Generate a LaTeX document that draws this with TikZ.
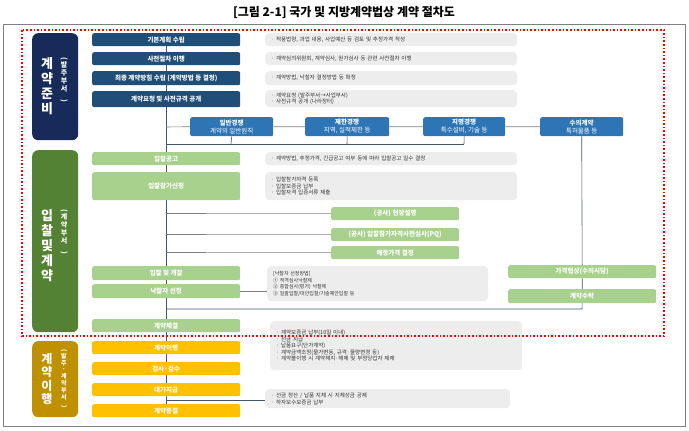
\documentclass[tikz,border=0pt]{standalone}
\usepackage{fontspec}
\setmainfont{Noto Sans CJK KR}
\usetikzlibrary{positioning}
\definecolor{navy}{HTML}{1F4E79}
\definecolor{dnavy}{HTML}{172B5A}
\definecolor{bl}{HTML}{2E75B6}
\definecolor{dg}{HTML}{548235}
\definecolor{lg}{HTML}{A9D18E}
\definecolor{yl}{HTML}{FFC000}
\definecolor{br}{HTML}{BF9000}
\definecolor{gy}{HTML}{EDEDED}
\definecolor{ln}{HTML}{44546A}
\tikzset{
 box/.style={anchor=north west,rounded corners=2pt,inner sep=0pt,font=\fontsize{6.5}{7}\selectfont\bfseries,text=white},
 nb/.style={box,fill=navy},
 gb/.style={box,fill=lg},
 yb/.style={box,fill=yl},
 tb/.style={box,fill=bl,align=center,font=\fontsize{6.5}{8}\selectfont\bfseries},
 db/.style={box,fill=gy,text=black!80,align=left,font=\fontsize{5.5}{6.6}\selectfont,rounded corners=4pt,text width=#1,inner xsep=6pt},
 db/.default=240pt,
 sb/.style={box,rounded corners=6pt},
 big/.style={text=white,font=\fontsize{13}{15}\selectfont\bfseries,align=center,inner sep=0pt},
 small/.style={text=white,font=\fontsize{7}{8}\selectfont\bfseries,align=center,inner sep=0pt},
 cn/.style={draw=ln,line width=0.6pt}
}
\newcommand{\vt}[1]{\rotatebox{-90}{#1}}
\begin{document}
\begin{tikzpicture}[x=1pt,y=-1pt]
\useasboundingbox (0,0) rectangle (689,431);
\node[font=\fontsize{12}{14}\selectfont\bfseries] (title) at (344,12) {[그림 2-1] 국가 및 지방계약법상 계약 절차도};
\draw[gray,line width=1pt] (3,24) rectangle (685,426);
% spine
\coordinate (s0) at (166,46);
\coordinate (s1) at (166,404);
\draw[cn] (s0) -- (s1);
% side labels
\node[sb,fill=dnavy,minimum width=46pt,minimum height=107pt] (L1) at (32,33) {};
\node[big] (L1a) at (47,86) {계\\약\\준\\비};
\node[small] (L1b) at (64,80) {\vt{(}\\발\\주\\부\\서\\\vt{)}};
\node[sb,fill=dg,minimum width=46pt,minimum height=182pt] (L2) at (32,150) {};
\node[big] (L2a) at (47,246) {입\\찰\\및\\계\\약};
\node[small] (L2b) at (64,232) {\vt{(}\\계\\약\\부\\서\\\vt{)}};
\node[sb,fill=br,minimum width=46pt,minimum height=76pt] (L3) at (32,341) {};
\node[big,font=\fontsize{12}{13.5}\selectfont\bfseries] (L3a) at (47,379) {계\\약\\이\\행};
\node[small,font=\fontsize{6}{6.8}\selectfont\bfseries] (L3b) at (64,379) {\vt{(}\\발\\주\\·\\계\\약\\부\\서\\\vt{)}};
% navy steps
\node[nb,minimum width=148pt,minimum height=13pt] (n1) at (92,33) {기본계획 수립};
\node[nb,minimum width=148pt,minimum height=13pt] (n2) at (92,52) {사전절차 이행};
\node[nb,minimum width=148pt,minimum height=14pt] (n3) at (92,71) {최종 계약방침 수립 (계약방법 등 결정)};
\node[nb,minimum width=148pt,minimum height=16pt] (n4) at (92,91) {계약요청 및 사전규격 공개};
\node[db,minimum height=13pt] (d1) at (265,33) {·\ 적용법령, 과업 내용, 사업예산 등 검토 및 추정가격 작성};
\node[db,minimum height=13pt] (d2) at (265,52) {·\ 계약심의위원회, 계약심사, 원가심사 등 관련 사전절차 이행};
\node[db,minimum height=14pt] (d3) at (265,71) {·\ 계약방법, 낙찰자 결정방법 등 확정};
\node[db,minimum height=17pt] (d4) at (265,90) {·\ 계약요청 (발주부서→사업부서)\\·\ 사전규격 공개 (나라장터)};
% contract types
\node[tb,minimum width=83pt,minimum height=19pt] (t1) at (190,117) {일반경쟁\\{\mdseries 계약의 일반원칙}};
\node[tb,minimum width=84pt,minimum height=19pt] (t2) at (305,117) {제한경쟁\\{\mdseries 지역, 실적제한 등}};
\node[tb,minimum width=82pt,minimum height=19pt] (t3) at (423,117) {지명경쟁\\{\mdseries 특수설비, 기술 등}};
\node[tb,minimum width=83pt,minimum height=19pt] (t4) at (540,117) {수의계약\\{\mdseries 특허물품 등}};
\draw[cn,draw=gray] (166,127) -- (t1.west) (t1.east) -- (t2.west) (t2.east) -- (t3.west) (t3.east) -- (t4.west);
\draw[cn] (t1.south) -- (231,144) (t2.south) -- (347,144) (t3.south) -- (464,144);
\draw[cn] (166,144) -- (464,144);
% bidding
\node[gb,minimum width=148pt,minimum height=13pt] (g1) at (92,152) {입찰공고};
\node[gb,minimum width=148pt,minimum height=28pt] (g2) at (92,172) {입찰참가신청};
\node[db,minimum height=13pt] (d5) at (265,152) {·\ 계약방법, 추정가격, 긴급공고 여부 등에 따라 입찰공고 일수 결정};
\node[db,minimum height=28pt] (d6) at (265,172) {·\ 입찰참가자격 등록\\·\ 입찰보증금 납부\\·\ 입찰자격 입증서류 제출};
\node[gb,minimum width=128pt,minimum height=13pt] (r1) at (331,207) {(공사) 현장설명};
\node[gb,minimum width=128pt,minimum height=13pt] (r2) at (331,228) {(공사) 입찰참가자격사전심사(PQ)};
\node[gb,minimum width=128pt,minimum height=13pt] (r3) at (331,246) {예정가격 결정};
\draw[cn,draw=gray] (166,213.5) -- (r1.west) (166,234.5) -- (r2.west) (166,252.5) -- (r3.west);
\node[gb,minimum width=148pt,minimum height=14pt] (g3) at (92,266) {입찰 및 개찰};
\node[gb,minimum width=148pt,minimum height=14pt] (g4) at (92,284) {낙찰자 선정};
\node[db=209pt,minimum height=35pt,font=\fontsize{5}{6.2}\selectfont] (d7) at (267,266) {[낙찰자 선정방법]\\[1pt]① 적격심사낙찰제\\② 종합심사(평가) 낙찰제\\③ 일괄입찰/대안입찰/기술제안입찰 등};
\draw[cn,draw=gray] (g4.east) -- (d7.west|-g4.east);
\node[gb,minimum width=148pt,minimum height=13pt] (p1) at (508,265) {가격협상(수의시담)};
\node[gb,minimum width=148pt,minimum height=14pt] (p2) at (508,289) {계약수락};
\draw[cn] (t4.south) -- (p1.north) (p1.south) -- (p2.north);
\draw[cn] (166,309) -- (582,309) -- (p2.south);
\node[gb,minimum width=148pt,minimum height=13pt] (g5) at (92,319) {계약체결};
\node[db,minimum height=49pt] (d8) at (270,321) {·\ 계약보증금 납부(10일 이내)\\·\ 선금 지급\\·\ 납품요구(단가계약)\\·\ 계약금액조정(물가변동, 규격·물량변경 등)\\·\ 계약불이행 시 계약해지·해제 및 부정당업자 제재};
% execution
\node[yb,minimum width=148pt,minimum height=13pt] (y1) at (92,341) {계약이행};
\node[yb,minimum width=148pt,minimum height=13pt] (y2) at (92,362) {검사·검수};
\node[yb,minimum width=148pt,minimum height=13pt] (y3) at (92,383) {대가지급};
\node[yb,minimum width=148pt,minimum height=13pt] (y4) at (92,404) {계약종결};
\node[db=233pt,minimum height=19pt] (d9) at (265,389) {·\ 선금 정산 / 납품 지체 시 지체상금 공제\\·\ 하자보수보증금 납부};
\draw[cn] (166,400) -- (d9.west|-166,400);
% red dotted frame
\draw[red,line width=1.6pt,dotted] (22,30) rectangle (664,336);
\end{tikzpicture}
\end{document}
